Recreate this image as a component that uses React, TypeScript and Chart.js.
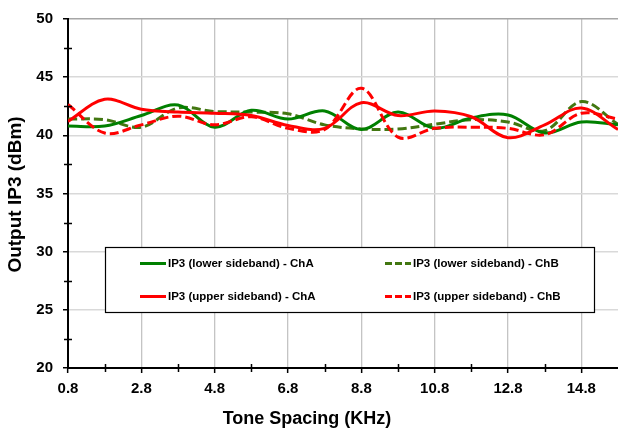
import React, { useEffect, useRef } from "react";
import { Chart, registerables } from "chart.js";

Chart.register(...registerables);

const FONT = "'Liberation Sans', Arial, sans-serif";

const toneSpacing = [0.8, 1.8, 2.8, 3.8, 4.8, 5.8, 6.8, 7.8, 8.8, 9.8, 10.8, 11.8, 12.8, 13.8, 14.8, 15.8];
const xTickValues = [0.8, 2.8, 4.8, 6.8, 8.8, 10.8, 12.8, 14.8];
const xMinorTicks = [1.8, 3.8, 5.8, 7.8, 9.8, 11.8, 13.8];
const yMinorTicks = [22.5, 27.5, 32.5, 37.5, 42.5, 47.5];

const lowerChA = [40.8, 40.8, 41.7, 42.6, 40.7, 42.15, 41.4, 42.1, 40.5, 42.0, 40.6, 41.5, 41.75, 40.2, 41.15, 40.9];
const upperChA = [41.2, 43.1, 42.25, 42.0, 41.9, 41.7, 40.85, 40.6, 42.8, 41.7, 42.1, 41.6, 39.8, 40.9, 42.35, 40.5];
const lowerChB = [41.4, 41.35, 40.7, 42.35, 42.05, 42.0, 41.85, 40.9, 40.55, 40.55, 40.95, 41.35, 41.15, 40.4, 42.9, 40.95];
const upperChB = [42.65, 40.2, 40.9, 41.65, 40.9, 41.6, 40.6, 40.5, 44.05, 39.85, 40.6, 40.7, 40.6, 40.05, 41.9, 41.4];

const labelLowerA = "IP3 (lower sideband) - ChA";
const labelUpperA = "IP3 (upper sideband) - ChA";
const labelLowerB = "IP3 (lower sideband) - ChB";
const labelUpperB = "IP3 (upper sideband) - ChB";
const xTitle = "Tone Spacing (KHz)";
const yTitle = "Output IP3 (dBm)";

const GREEN = "#008000";
const OLIVE = "#427711";
const RED = "#ff0000";
const DASH = [9, 4];

const pts = (ys: number[]) => ys.map((y, i) => ({ x: toneSpacing[i], y }));

const decor = {
  id: "decor",
  afterDraw(chart: any) {
    const { ctx, chartArea, scales } = chart;
    const xs = scales.x;
    const ys = scales.y;
    ctx.save();
    // minor ticks
    ctx.strokeStyle = "#000";
    ctx.lineWidth = 1.5;
    ctx.beginPath();
    for (const v of yMinorTicks) {
      const py = Math.round(ys.getPixelForValue(v)) + 0.5;
      ctx.moveTo(chartArea.left - 4, py);
      ctx.lineTo(chartArea.left + 4, py);
    }
    for (const v of xMinorTicks) {
      const px = Math.round(xs.getPixelForValue(v)) + 0.5;
      ctx.moveTo(px, chartArea.bottom - 4);
      ctx.lineTo(px, chartArea.bottom + 4);
    }
    ctx.stroke();

    // axis titles
    ctx.fillStyle = "#000";
    ctx.font = `bold 18px ${FONT}`;
    ctx.textAlign = "center";
    ctx.textBaseline = "middle";
    ctx.fillText(xTitle, (chartArea.left + chartArea.right) / 2 - 36, 419);
    ctx.save();
    ctx.translate(16, (chartArea.top + chartArea.bottom) / 2 + 1);
    ctx.rotate(-Math.PI / 2);
    ctx.font = `bold 19px ${FONT}`;
    ctx.fillText(yTitle, 0, 0);
    ctx.restore();

    // legend
    const bx = 105, by = 247, bw = 489, bh = 65;
    ctx.fillStyle = "#fff";
    ctx.fillRect(bx, by, bw, bh);
    ctx.strokeStyle = "#000";
    ctx.lineWidth = 1.2;
    ctx.strokeRect(bx + 0.5, by + 0.5, bw, bh);
    const items = [
      { label: labelLowerA, color: GREEN, dash: [] as number[], x: 140, y: 263.5 },
      { label: labelUpperA, color: RED, dash: [] as number[], x: 140, y: 296.5 },
      { label: labelLowerB, color: OLIVE, dash: [7, 3], x: 385, y: 263.5 },
      { label: labelUpperB, color: RED, dash: [7, 3], x: 385, y: 296.5 },
    ];
    ctx.font = `bold 11.5px ${FONT}`;
    ctx.textAlign = "left";
    for (const it of items) {
      ctx.strokeStyle = it.color;
      ctx.lineWidth = 3;
      ctx.setLineDash(it.dash);
      ctx.beginPath();
      ctx.moveTo(it.x, it.y);
      ctx.lineTo(it.x + 26, it.y);
      ctx.stroke();
      ctx.setLineDash([]);
      ctx.fillStyle = "#000";
      ctx.fillText(it.label, it.x + 28, it.y + 0.5);
    }
    ctx.restore();
  },
};

export default function App() {
  const ref = useRef<HTMLCanvasElement>(null);
  useEffect(() => {
    const common = {
      pointRadius: 0,
      borderWidth: 3,
      tension: 0.35,
      fill: false,
    };
    const chart = new Chart(ref.current as HTMLCanvasElement, {
      type: "line",
      data: {
        datasets: [
          { ...common, label: labelLowerA, data: pts(lowerChA), borderColor: GREEN, order: 3 },
          { ...common, label: labelLowerB, data: pts(lowerChB), borderColor: OLIVE, borderDash: DASH, order: 4 },
          { ...common, label: labelUpperA, data: pts(upperChA), borderColor: RED, order: 1 },
          { ...common, label: labelUpperB, data: pts(upperChB), borderColor: RED, borderDash: DASH, order: 2 },
        ] as any,
      },
      options: {
        responsive: false,
        animation: false,
        layout: { padding: { top: 10, right: 0, left: 0, bottom: 0 } },
        plugins: { legend: { display: false }, tooltip: { enabled: false } },
        scales: {
          x: {
            type: "linear",
            min: 0.8,
            max: 15.8,
            afterBuildTicks: (scale: any) => {
              scale.ticks = xTickValues.map((v) => ({ value: v }));
            },
            afterFit: (scale: any) => {
              scale.height = 65;
            },
            ticks: {
              autoSkip: false,
              maxRotation: 0,
              padding: 7,
              color: "#000",
              font: { family: FONT, size: 15, weight: "bold" },
              callback: (v: any) => Number(v).toFixed(1),
            },
            grid: {
              color: "#c4c4c4",
              lineWidth: 1.3,
              tickColor: "#000",
              tickLength: 5,
              tickWidth: 1.5,
            },
            border: { color: "#000", width: 2 },
          },
          y: {
            type: "linear",
            min: 20,
            max: 50,
            afterFit: (scale: any) => {
              scale.width = 68;
            },
            ticks: {
              stepSize: 5,
              padding: 10,
              color: "#000",
              font: { family: FONT, size: 15, weight: "bold" },
            },
            grid: {
              color: (c: any) => (c.tick && c.tick.value === 50 ? "#a6a6a6" : "#d9d9d9"),
              lineWidth: 1.5,
              tickColor: "#000",
              tickLength: 5,
              tickWidth: 1.5,
            },
            border: { color: "#000", width: 2 },
          },
        },
      } as any,
      plugins: [decor],
    });
    return () => chart.destroy();
  }, []);
  return (
    <div style={{ position: "absolute", left: 0, top: 0, width: 618, height: 433, background: "#fff" }}>
      <canvas ref={ref} width={618} height={433} style={{ display: "block" }} />
    </div>
  );
}
